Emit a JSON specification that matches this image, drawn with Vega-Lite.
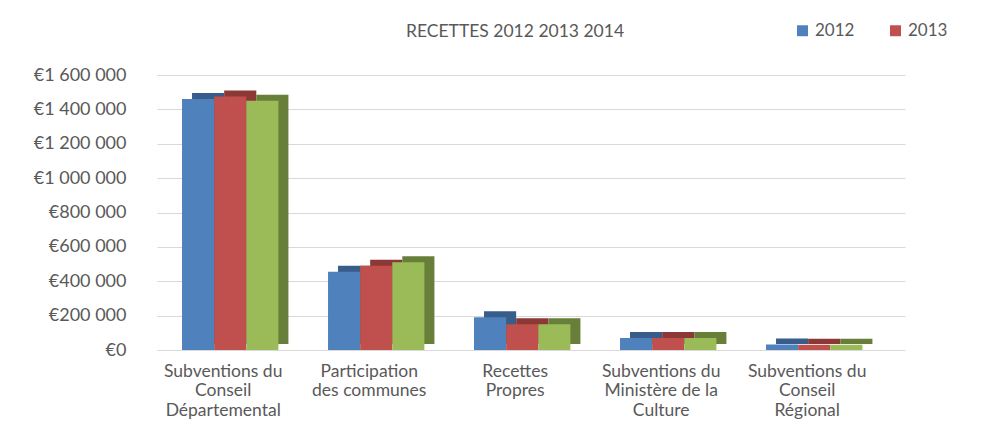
{
  "$schema": "https://vega.github.io/schema/vega-lite/v6.json",
  "autosize": {"type": "none"},
  "width": 748,
  "height": 275,
  "padding": {"left": 157, "top": 75, "right": 99, "bottom": 71},
  "background": "white",
  "title": {"text": "RECETTES 2012 2013 2014", "font": "Lato", "fontSize": 17.5, "fontWeight": "normal", "color": "#595959", "anchor": "middle", "dx": -16, "dy": 50, "offset": 32},
  "data": {"values": [
    {"categorie": "Subventions du Conseil Départemental", "annee": "2012", "montant": 1460000},
    {"categorie": "Subventions du Conseil Départemental", "annee": "2013", "montant": 1475000},
    {"categorie": "Subventions du Conseil Départemental", "annee": "2014", "montant": 1450000},
    {"categorie": "Participation des communes", "annee": "2012", "montant": 455000},
    {"categorie": "Participation des communes", "annee": "2013", "montant": 490000},
    {"categorie": "Participation des communes", "annee": "2014", "montant": 510000},
    {"categorie": "Recettes Propres", "annee": "2012", "montant": 190000},
    {"categorie": "Recettes Propres", "annee": "2013", "montant": 150000},
    {"categorie": "Recettes Propres", "annee": "2014", "montant": 150000},
    {"categorie": "Subventions du Ministère de la Culture", "annee": "2012", "montant": 70000},
    {"categorie": "Subventions du Ministère de la Culture", "annee": "2013", "montant": 70000},
    {"categorie": "Subventions du Ministère de la Culture", "annee": "2014", "montant": 70000},
    {"categorie": "Subventions du Conseil Régional", "annee": "2012", "montant": 32000},
    {"categorie": "Subventions du Conseil Régional", "annee": "2013", "montant": 30000},
    {"categorie": "Subventions du Conseil Régional", "annee": "2014", "montant": 30000}
  ]},
  "encoding": {
    "x": {"field": "categorie", "type": "nominal", "sort": null,
      "scale": {"paddingInner": 0.34, "paddingOuter": 0.2317, "align": 0.37},
      "axis": {"title": null, "domain": false, "ticks": false, "labelAngle": 0, "labelFont": "Lato", "labelFontSize": 17.5, "labelColor": "#595959", "labelPadding": 12, "labelOffset": -7, "labelLineHeight": 19.5,
        "labelExpr": "datum.value == 'Subventions du Conseil Départemental' ? ['Subventions du','Conseil','Départemental'] : datum.value == 'Participation des communes' ? ['Participation','des communes'] : datum.value == 'Recettes Propres' ? ['Recettes','Propres'] : datum.value == 'Subventions du Ministère de la Culture' ? ['Subventions du','Ministère de la','Culture'] : ['Subventions du','Conseil','Régional']"}},
    "y": {"field": "montant", "type": "quantitative",
      "scale": {"domain": [0, 1600000], "nice": false},
      "axis": {"title": null, "domain": false, "ticks": false, "values": [0, 200000, 400000, 600000, 800000, 1000000, 1200000, 1400000, 1600000], "labelFont": "Lato", "labelFontSize": 18, "labelColor": "#595959", "labelPadding": 31, "gridColor": "#d9d9d9",
        "labelExpr": "'€' + replace(format(datum.value, ','), regexp(',', 'g'), ' ')"}}
  },
  "layer": [
    {
      "mark": {"type": "bar", "yOffset": -6},
      "encoding": {
        "xOffset": {"field": "annee", "type": "nominal", "sort": ["2012", "2013", "2014"], "scale": {"range": [10, 106.4]}},
        "color": {"field": "annee", "type": "nominal", "scale": {"domain": ["2012", "2013", "2014"], "range": ["#385d8a", "#8c3836", "#687f3a"]}, "legend": null}
      }
    },
    {
      "mark": {"type": "bar"},
      "encoding": {
        "xOffset": {"field": "annee", "type": "nominal", "sort": ["2012", "2013", "2014"]},
        "color": {"field": "annee", "type": "nominal", "title": null,
          "scale": {"domain": ["2012", "2013", "2014"], "range": ["#4f81bd", "#c0504d", "#9bbb59"]},
          "legend": {"orient": "none", "legendX": 637, "legendY": -53, "direction": "horizontal", "values": ["2012", "2013"], "symbolType": "square", "symbolSize": 120, "symbolStrokeWidth": 0, "labelFont": "Lato", "labelFontSize": 17, "labelColor": "#595959", "columnPadding": 32}}
      }
    }
  ],
  "resolve": {"scale": {"color": "independent", "xOffset": "independent"}},
  "config": {"view": {"stroke": null}}
}
